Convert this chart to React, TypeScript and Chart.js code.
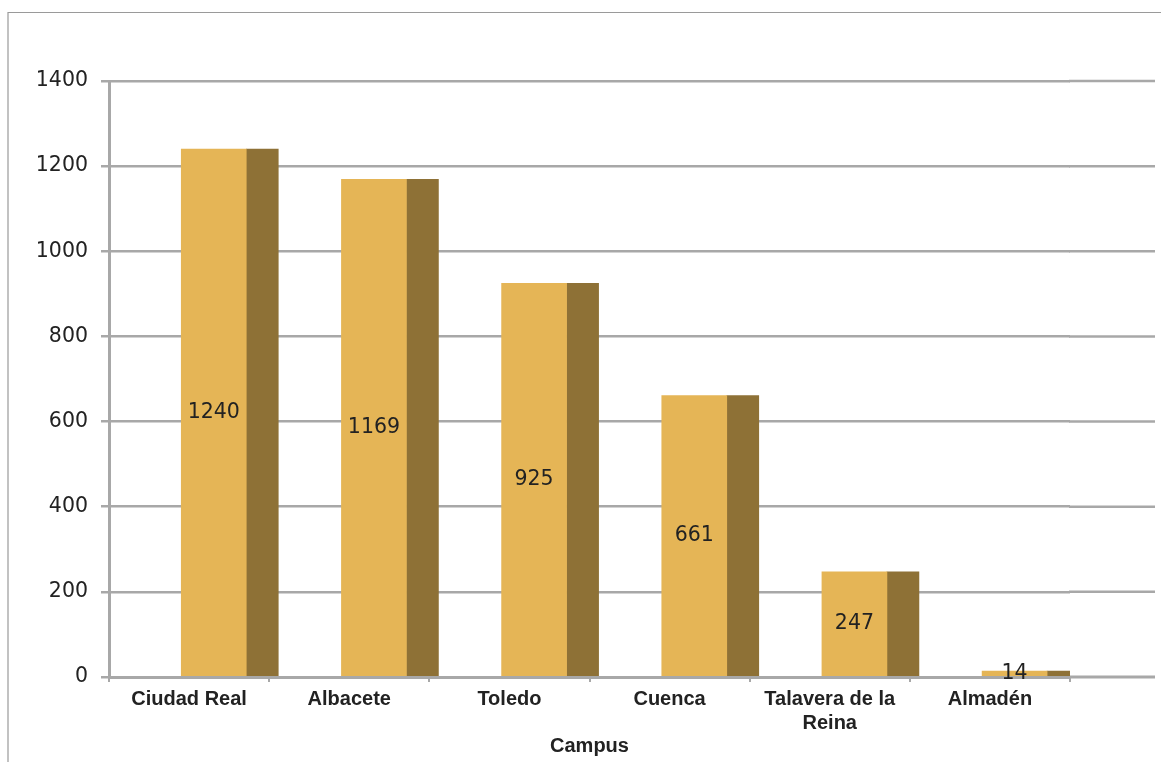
import React, { useEffect, useRef } from 'react';
import { Chart, registerables } from 'chart.js';

Chart.register(...registerables);

const categories: (string | string[])[] = [
  'Ciudad Real',
  'Albacete',
  'Toledo',
  'Cuenca',
  ['Talavera de la', 'Reina'],
  'Almadén',
];
const values: number[] = [1240, 1169, 925, 661, 247, 14];
const yMin = 0;
const yMax = 1400;
const yStep = 200;
const axisTitle = 'Campus';

const FRONT_COLOR = '#E5B556';
const SIDE_COLOR = '#8E7136';
const GRID_COLOR = '#a8a8a8';
const TEXT_COLOR = '#222222';

export default function App() {
  const ref = useRef<HTMLCanvasElement | null>(null);

  useEffect(() => {
    if (!ref.current) return;
    const shift = 0.357;
    const points = values.map((v, i) => ({ x: i + shift, y: v }));

    const framePlugin = {
      id: 'frame',
      beforeDraw(chart: any) {
        const ctx = chart.ctx;
        ctx.save();
        ctx.strokeStyle = '#9a9a9a';
        ctx.lineWidth = 1.2;
        ctx.beginPath();
        ctx.moveTo(8, 762);
        ctx.lineTo(8, 12.5);
        ctx.lineTo(1161, 12.5);
        ctx.stroke();
        ctx.restore();
      },
    };

    const gridExtendPlugin = {
      id: 'gridExtend',
      beforeDatasetsDraw(chart: any) {
        const ctx = chart.ctx;
        const ys = chart.scales.y;
        const area = chart.chartArea;
        ctx.save();
        ctx.strokeStyle = GRID_COLOR;
        ctx.lineCap = 'butt';
        ys.ticks.forEach((t: any) => {
          const py = ys.getPixelForValue(t.value);
          ctx.lineWidth = t.value === 0 ? 3 : 2.5;
          ctx.beginPath();
          ctx.moveTo(area.right - 1, py);
          ctx.lineTo(area.right + 85, py);
          ctx.stroke();
        });
        ctx.restore();
      },
    };

    const labelPlugin = {
      id: 'barLabels',
      afterDatasetsDraw(chart: any) {
        const ctx = chart.ctx;
        const meta = chart.getDatasetMeta(0);
        ctx.save();
        ctx.fillStyle = TEXT_COLOR;
        ctx.font = '20.5px "DejaVu Sans", Verdana, sans-serif';
        ctx.textAlign = 'center';
        ctx.textBaseline = 'middle';
        meta.data.forEach((el: any, i: number) => {
          const y = (el.y + el.base) / 2;
          ctx.fillText(String(values[i]), el.x, y);
        });
        ctx.restore();
      },
    };

    const chart = new Chart(ref.current, {
      type: 'bar',
      data: {
        labels: categories as any,
        datasets: [
          {
            label: 'front',
            data: points as any,
            xAxisID: 'xb',
            yAxisID: 'y',
            backgroundColor: FRONT_COLOR,
            barThickness: 65,
            borderWidth: 0,
          },
          {
            label: 'side',
            data: points as any,
            xAxisID: 'xb',
            yAxisID: 'y',
            backgroundColor: SIDE_COLOR,
            barThickness: 32,
            borderWidth: 0,
          },
        ],
      },
      options: {
        animation: false,
        responsive: false,
        maintainAspectRatio: false,
        layout: { padding: { top: 81, right: 91, left: 0, bottom: 0 } },
        plugins: {
          legend: { display: false },
          tooltip: { enabled: false },
        },
        scales: {
          x: {
            type: 'category',
            offset: true,
            position: 'bottom',
            grid: {
              display: true,
              drawOnChartArea: false,
              offset: true,
              tickLength: 5,
              color: GRID_COLOR,
              lineWidth: 2,
            },
            border: { display: true, color: GRID_COLOR, width: 3 },
            ticks: {
              color: TEXT_COLOR,
              font: { family: '"Liberation Sans", Arial, sans-serif', size: 20, weight: 'bold' },
              padding: 5,
              maxRotation: 0,
              autoSkip: false,
            },
            title: {
              display: true,
              text: axisTitle,
              color: TEXT_COLOR,
              font: { family: '"Liberation Sans", Arial, sans-serif', size: 20, weight: 'bold' },
              padding: { top: 0, bottom: 4 },
            },
            afterFit(scale: any) {
              scale.height = 85;
            },
          },
          xb: {
            type: 'linear',
            display: false,
            offset: false,
            grid: { offset: false },
            min: -0.5,
            max: categories.length - 0.5,
          },
          y: {
            type: 'linear',
            min: yMin,
            max: yMax,
            ticks: {
              stepSize: yStep,
              color: TEXT_COLOR,
              font: { family: '"DejaVu Sans", Verdana, sans-serif', size: 20.5 },
              padding: 13,
              callback: (v: any) => String(v),
            },
            grid: {
              color: GRID_COLOR,
              lineWidth: 2.5,
              tickLength: 8,
            },
            border: { display: true, color: GRID_COLOR, width: 3 },
            afterFit(scale: any) {
              scale.width = 109;
            },
          },
        },
      } as any,
      plugins: [framePlugin, gridExtendPlugin, labelPlugin],
    });

    return () => chart.destroy();
  }, []);

  return (
    <div style={{ position: 'fixed', left: 0, top: 0, width: 1161, height: 762, background: '#fff' }}>
      <canvas ref={ref} width={1161} height={762} style={{ width: 1161, height: 762, display: 'block' }} />
    </div>
  );
}
